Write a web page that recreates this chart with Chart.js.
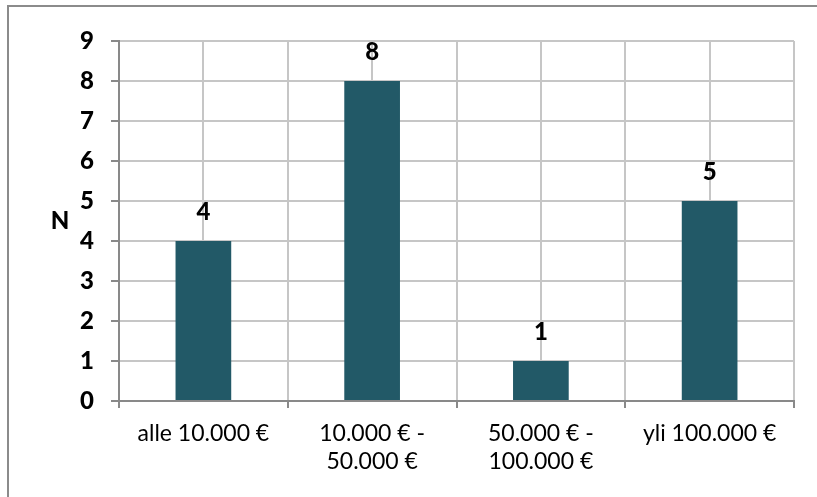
<!DOCTYPE html>
<html>
<head>
<meta charset="utf-8">
<script src="https://cdn.jsdelivr.net/npm/chart.js@4"></script>
<style>
  body { margin: 0; background: #fff; }
  #wrap { position: relative; width: 817px; height: 497px; overflow: hidden; }
  #frame {
    position: absolute; left: 7px; top: 5px; width: 900px; height: 600px;
    border-left: 2px solid #8b8b8b; border-top: 2px solid #8b8b8b;
  }
  #chart { position: absolute; left: 0; top: 0; }
</style>
</head>
<body>
<div id="wrap">
  <div id="frame"></div>
  <canvas id="chart" width="817" height="497"></canvas>
</div>
<script>
  // Categories and counts
  var categories = [
    "alle 10.000 €",
    ["10.000 € -", "50.000 €"],
    ["50.000 € -", "100.000 €"],
    "yli 100.000 €"
  ];
  var counts = [4, 8, 1, 5];
  var yTicks = [0, 1, 2, 3, 4, 5, 6, 7, 8, 9];
  var axisTitle = "N";

  var FONT = "Lato, 'Open Sans', sans-serif";
  var BAR_COLOR = "#225967";
  var GRID = "#c6c6c6";
  var AXIS = "#898989";

  // Value labels above each bar and the horizontal "N" title
  var labelPlugin = {
    id: "labels",
    afterDatasetsDraw: function (chart) {
      var ctx = chart.ctx;
      var meta = chart.getDatasetMeta(0);
      ctx.save();
      ctx.fillStyle = "#000";
      ctx.font = "900 24px " + FONT;
      ctx.textAlign = "center";
      ctx.textBaseline = "alphabetic";
      meta.data.forEach(function (bar, i) {
        ctx.fillText(String(counts[i]), bar.x, bar.y - 21);
      });
      var y = chart.scales.y;
      ctx.font = "900 24px " + FONT;
      ctx.textBaseline = "middle";
      ctx.fillText(axisTitle, 60, (y.top + y.bottom) / 2);
      ctx.restore();
    }
  };

  new Chart(document.getElementById("chart"), {
    type: "bar",
    data: {
      labels: categories,
      datasets: [
        {
          data: counts,
          backgroundColor: BAR_COLOR,
          barPercentage: 0.33,
          categoryPercentage: 1,
          xAxisID: "x"
        }
      ]
    },
    options: {
      responsive: false,
      animation: false,
      layout: { padding: { top: 41, right: 23, left: 0, bottom: 0 } },
      plugins: {
        legend: { display: false },
        tooltip: { enabled: false }
      },
      scales: {
        x: {
          type: "category",
          offset: true,
          grid: {
            offset: true,
            color: GRID,
            lineWidth: 2,
            tickColor: AXIS,
            tickLength: 7
          },
          border: { color: AXIS, width: 2 },
          ticks: {
            color: "#000",
            font: { family: FONT, size: 23, lineHeight: 1.2 },
            padding: 12,
            maxRotation: 0,
            autoSkip: false
          },
          afterFit: function (s) { s.height = 96; }
        },
        // center lines through each category
        xc: {
          type: "category",
          position: "bottom",
          offset: true,
          grid: { offset: false, color: GRID, lineWidth: 2, drawTicks: false },
          border: { display: false },
          ticks: { display: false },
          afterFit: function (s) { s.height = 0; }
        },
        y: {
          min: 0,
          max: 9,
          afterBuildTicks: function (s) {
            s.ticks = yTicks.map(function (v) { return { value: v }; });
          },
          grid: {
            color: GRID,
            lineWidth: 2,
            tickColor: AXIS,
            tickLength: 8
          },
          border: { color: AXIS, width: 2 },
          ticks: {
            color: "#000",
            font: { family: FONT, size: 24, weight: "900" },
            padding: 17
          },
          afterFit: function (s) { s.width = 119; }
        }
      }
    },
    plugins: [labelPlugin]
  });
</script>
</body>
</html>
